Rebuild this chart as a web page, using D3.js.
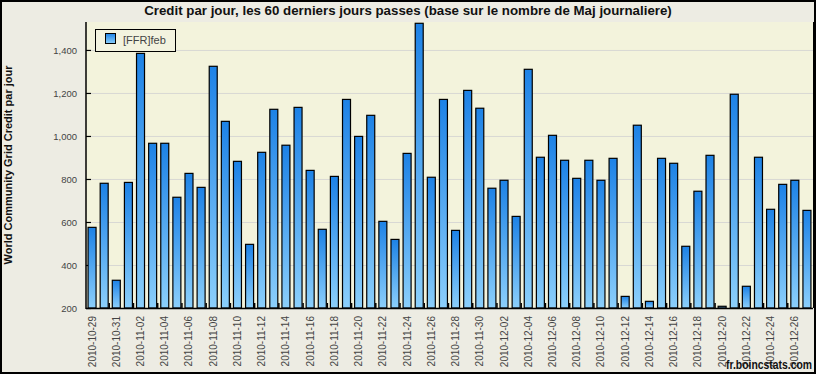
<!DOCTYPE html>
<html>
<head>
<meta charset="utf-8">
<script src="https://cdn.jsdelivr.net/npm/d3@7"></script>
<style>
    html, body { margin: 0; padding: 0; background: #ffffff; }
    #container { width: 817px; height: 375px; }
    text { font-family: "Liberation Sans", Arial, sans-serif; }
</style>
</head>
<body>
<div id="container"></div>
<script>
const width = 817;
const height = 375;
const title = "Credit par jour, les 60 derniers jours passes (base sur le nombre de Maj journaliere)";
const yTitle = "World Community Grid Credit par jour";
const seriesName = "[FFR]feb";
const days = [
    "2010-10-29", "2010-10-30", "2010-10-31", "2010-11-01", "2010-11-02", "2010-11-03",
    "2010-11-04", "2010-11-05", "2010-11-06", "2010-11-07", "2010-11-08", "2010-11-09",
    "2010-11-10", "2010-11-11", "2010-11-12", "2010-11-13", "2010-11-14", "2010-11-15",
    "2010-11-16", "2010-11-17", "2010-11-18", "2010-11-19", "2010-11-20", "2010-11-21",
    "2010-11-22", "2010-11-23", "2010-11-24", "2010-11-25", "2010-11-26", "2010-11-27",
    "2010-11-28", "2010-11-29", "2010-11-30", "2010-12-01", "2010-12-02", "2010-12-03",
    "2010-12-04", "2010-12-05", "2010-12-06", "2010-12-07", "2010-12-08", "2010-12-09",
    "2010-12-10", "2010-12-11", "2010-12-12", "2010-12-13", "2010-12-14", "2010-12-15",
    "2010-12-16", "2010-12-17", "2010-12-18", "2010-12-19", "2010-12-20", "2010-12-21",
    "2010-12-22", "2010-12-23", "2010-12-24", "2010-12-25", "2010-12-26", "2010-12-27",
];
const credits = [
    575, 780, 329, 784, 1384, 966, 966, 715, 826, 761,
    1324, 1068, 882, 496, 924, 1124, 957, 1133, 840, 566,
    812, 1170, 998, 1096, 603, 519, 919, 1524, 808, 1170,
    561, 1212, 1129, 757, 794, 626, 1310, 901, 1003, 887,
    803, 887, 794, 896, 254, 1050, 231, 896, 873, 487,
    743, 910, 208, 1194, 301, 901, 659, 775, 794, 654,
];
const yTicks = [200, 400, 600, 800, 1000, 1200, 1400];
const credit = "fr.boincstats.com";

const plot = { left: 86, right: 813, top: 22, bottom: 308 };

const svg = d3.select("#container")
    .append("svg")
    .attr("width", width)
    .attr("height", height);

const defs = svg.append("defs");
const grad = defs.append("linearGradient")
    .attr("id", "barGrad")
    .attr("x1", 0).attr("y1", 0)
    .attr("x2", 0).attr("y2", 1);
grad.append("stop").attr("offset", "0%").attr("stop-color", "#1d82e6");
grad.append("stop").attr("offset", "100%").attr("stop-color", "#8bcffb");

// background + frame
svg.append("rect")
    .attr("x", 1)
    .attr("y", 1)
    .attr("width", width - 3)
    .attr("height", height - 3)
    .style("fill", "#edece3")
    .style("stroke", "#000")
    .style("stroke-width", 2);
svg.append("rect")
    .attr("x", plot.left)
    .attr("y", plot.top)
    .attr("width", plot.right - plot.left)
    .attr("height", plot.bottom - plot.top)
    .style("fill", "#f3f3dc");

const x = d3.scaleBand()
    .domain(days)
    .range([plot.left, plot.right])
    .paddingInner(0.34)
    .paddingOuter(0.17);
const y = d3.scaleLinear()
    .domain([200, 1530])
    .range([plot.bottom, plot.top]);

// grid
svg.append("g")
    .selectAll("line")
    .data(yTicks.slice(1))
    .enter()
    .append("line")
    .attr("x1", plot.left)
    .attr("x2", plot.right)
    .attr("y1", (d) => y(d) + 0.5)
    .attr("y2", (d) => y(d) + 0.5)
    .style("stroke", "#d8d8d4")
    .style("stroke-width", 1);

// y axis
const yAxis = svg.append("g")
    .attr("transform", `translate(${plot.left},0)`)
    .call(d3.axisLeft(y).tickValues(yTicks).tickSize(-5).tickPadding(9).tickFormat(d3.format(",")));
yAxis.select(".domain").remove();
yAxis.selectAll("line").style("stroke", "#000").style("stroke-width", 1.2);
yAxis.selectAll("text")
    .style("font-size", "9.5px")
    .style("fill", "#444");

// bars
svg.append("g")
    .selectAll("rect")
    .data(credits)
    .enter()
    .append("rect")
    .attr("x", (d, i) => x(days[i]))
    .attr("y", (d) => y(d))
    .attr("width", x.bandwidth())
    .attr("height", (d) => y(200) - y(d))
    .style("fill", "url(#barGrad)")
    .style("stroke", "#000")
    .style("stroke-width", 1.2);

// small x ticks every 2 days
const gap = (x.step() - x.bandwidth()) / 2;
svg.append("g")
    .selectAll("line")
    .data(days.filter((d, i) => i > 0 && i % 2 === 0))
    .enter()
    .append("line")
    .attr("x1", (d) => x(d) - gap - 1)
    .attr("x2", (d) => x(d) - gap - 1)
    .attr("y1", plot.bottom)
    .attr("y2", plot.bottom - 5)
    .style("stroke", "#000")
    .style("stroke-width", 1.5);

// axis lines
svg.append("line")
    .attr("x1", plot.left).attr("x2", plot.left)
    .attr("y1", plot.top).attr("y2", plot.bottom + 1)
    .style("stroke", "#000").style("stroke-width", 1.5);
svg.append("line")
    .attr("x1", plot.left).attr("x2", plot.right)
    .attr("y1", plot.bottom + 0.5).attr("y2", plot.bottom + 0.5)
    .style("stroke", "#000").style("stroke-width", 1.5);
svg.append("line")
    .attr("x1", plot.right + 0.5).attr("x2", plot.right + 0.5)
    .attr("y1", plot.top).attr("y2", plot.bottom)
    .style("stroke", "#000").style("stroke-width", 1);

// x labels
svg.append("g")
    .selectAll("text")
    .data(days.filter((d, i) => i % 2 === 0))
    .enter()
    .append("text")
    .attr("transform", (d) => `translate(${x(d) + x.bandwidth() / 2 + 3.5},316) rotate(-90)`)
    .attr("text-anchor", "end")
    .style("font-size", "10px")
    .style("fill", "#444")
    .text((d) => d);

// titles
svg.append("text")
    .attr("x", 408)
    .attr("y", 15)
    .attr("text-anchor", "middle")
    .style("font-size", "13.3px")
    .style("font-weight", "bold")
    .style("fill", "#111")
    .text(title);
svg.append("text")
    .attr("transform", `translate(12,${(plot.top + plot.bottom) / 2}) rotate(-90)`)
    .attr("text-anchor", "middle")
    .style("font-size", "11px")
    .style("font-weight", "bold")
    .style("fill", "#111")
    .text(yTitle);

// legend
const legend = svg.append("g");
legend.append("rect")
    .attr("x", 95.5)
    .attr("y", 29.5)
    .attr("width", 80)
    .attr("height", 22)
    .style("fill", "#f3f3df")
    .style("stroke", "#000")
    .style("stroke-width", 1);
legend.append("rect")
    .attr("x", 105.5)
    .attr("y", 33.5)
    .attr("width", 10)
    .attr("height", 10)
    .style("fill", "url(#barGrad)")
    .style("stroke", "#000")
    .style("stroke-width", 1);
legend.append("text")
    .attr("x", 123)
    .attr("y", 44)
    .style("font-size", "11px")
    .style("fill", "#444")
    .text(seriesName);

svg.append("text")
    .attr("x", 812)
    .attr("y", 368.5)
    .attr("text-anchor", "end")
    .attr("textLength", 86)
    .attr("lengthAdjust", "spacingAndGlyphs")
    .style("font-size", "12px")
    .style("font-weight", "bold")
    .style("fill", "#111")
    .text(credit);
</script>
</body>
</html>
